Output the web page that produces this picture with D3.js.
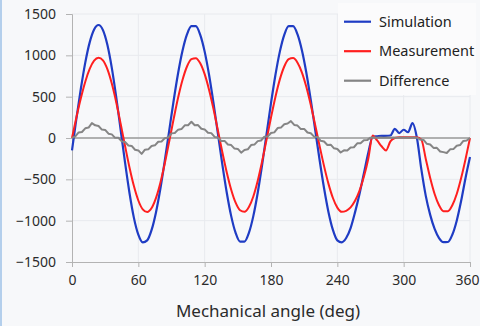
<!DOCTYPE html>
<html lang="en">
<head>
<meta charset="UTF-8">
<title>Simulation vs measurement</title>
<script src="https://d3js.org/d3.v7.min.js"></script>
<style>
  body { margin: 0; background: #f7f8fa; }
  svg { display: block; font-family: "Noto Sans", "Open Sans", sans-serif; }
</style>
</head>
<body>
<div id="chart"></div>
<script>
// angles (deg) for simulation / measurement, 4 deg apart
const angles4 = [
  0, 4, 8, 12, 16, 20, 24, 28, 32, 36,
  40, 44, 48, 52, 56, 60, 64, 68, 72, 76,
  80, 84, 88, 92, 96, 100, 104, 108, 112, 116,
  120, 124, 128, 132, 136, 140, 144, 148, 152, 156,
  160, 164, 168, 172, 176, 180, 184, 188, 192, 196,
  200, 204, 208, 212, 216, 220, 224, 228, 232, 236,
  240, 244, 248, 252, 256, 260, 264, 268, 272, 276,
  280, 284, 288, 292, 296, 300, 304, 308, 312, 316,
  320, 324, 328, 332, 336, 340, 344, 348, 352, 356,
  360
];
const simulation = [
  -150, 238, 596, 912, 1157, 1313, 1367, 1305, 1127, 848,
  495, 100, -299, -665, -966, -1170, -1263, -1238, -1112, -897,
  -608, -269, 96, 457, 786, 1058, 1253, 1353, 1353, 1248,
  1045, 762, 421, 50, -321, -662, -945, -1148, -1253, -1253,
  -1148, -945, -662, -321, 50, 421, 762, 1045, 1248, 1353,
  1353, 1253, 1058, 786, 457, 96, -269, -608, -897, -1112,
  -1238, -1262, -1210, -1090, -900, -680, -430, -180, 15, 20,
  25, 25, 30, 110, 60, 100, 70, 180, 0, -380,
  -700, -930, -1100, -1210, -1260, -1258, -1170, -1000, -760, -480,
  -230
];
const measurement = [
  0, 250, 480, 680, 835, 935, 971, 939, 832, 658,
  433, 173, -97, -357, -582, -756, -863, -895, -847, -724,
  -538, -302, -37, 234, 489, 704, 865, 954, 966, 904,
  772, 582, 350, 90, -172, -417, -626, -783, -874, -893,
  -835, -707, -517, -281, -19, 248, 497, 709, 865, 953,
  967, 911, 791, 616, 398, 155, -98, -340, -555, -726,
  -842, -893, -881, -840, -760, -640, -470, -250, 30, -30,
  -100, -150, -40, 0, 10, 10, 10, 10, 10, -20,
  -253, -484, -677, -814, -886, -886, -814, -677, -484, -253,
  0
];

// difference, 3 deg apart
const angles3 = [
  0, 3, 6, 9, 12, 15, 18, 21, 24, 27,
  30, 33, 36, 39, 42, 45, 48, 51, 54, 57,
  60, 63, 66, 69, 72, 75, 78, 81, 84, 87,
  90, 93, 96, 99, 102, 105, 108, 111, 114, 117,
  120, 123, 126, 129, 132, 135, 138, 141, 144, 147,
  150, 153, 156, 159, 162, 165, 168, 171, 174, 177,
  180, 183, 186, 189, 192, 195, 198, 201, 204, 207,
  210, 213, 216, 219, 222, 225, 228, 231, 234, 237,
  240, 243, 246, 249, 252, 255, 258, 261, 264, 267,
  270, 273, 276, 279, 282, 285, 288, 291, 294, 297,
  300, 303, 306, 309, 312, 315, 318, 321, 324, 327,
  330, 333, 336, 339, 342, 345, 348, 351, 354, 357,
  360
];
const difference = [
  0, 20, 67, 73, 117, 126, 180, 153, 145, 102,
  98, 52, 44, 2, 3, -41, -49, -91, -96, -142,
  -150, -192, -141, -137, -96, -89, -45, -42, -2, 5,
  56, 61, 101, 108, 153, 155, 196, 154, 156, 112,
  104, 63, 59, 13, 5, -37, -35, -79, -86, -128,
  -132, -178, -145, -137, -85, -80, -38, -30, 15, 19,
  60, 68, 120, 126, 167, 175, 204, 158, 150, 108,
  110, 66, 58, 16, 12, -34, -42, -84, -81, -125,
  -133, -175, -149, -151, -114, -112, -65, -64, -28, -25,
  4, 5, 3, 6, 4, 5, 3, 6, 4, 5,
  3, 6, 4, 5, 4, -19, -23, -70, -78, -120,
  -119, -163, -171, -181, -137, -134, -93, -86, -35, -31,
  0
];

const xTicks = [0, 60, 120, 180, 240, 300, 360];
const yTicks = [-1500, -1000, -500, 0, 500, 1000, 1500];
const seriesNames = ["Simulation", "Measurement", "Difference"];
const seriesColors = ["#1f3cc4", "#ff1f1f", "#858585"];

const width = 480, height = 326;
const x = d3.scaleLinear().domain([0, 360]).range([72, 470]);
const y = d3.scaleLinear().domain([-1500, 1500]).range([262, 14]);

const svg = d3.select("#chart").append("svg")
  .attr("width", width)
  .attr("height", height);

svg.append("rect").attr("width", width).attr("height", height).attr("fill", "#f7f8fa");
// thin blue window edge on the left
svg.append("rect").attr("x", 0).attr("y", 0).attr("width", 2).attr("height", height).attr("fill", "#b4cfec");

// faint grid
svg.append("g").selectAll("line").data(xTicks.slice(1)).join("line")
  .attr("x1", d => x(d)).attr("x2", d => x(d))
  .attr("y1", y(1500)).attr("y2", y(-1500))
  .attr("stroke", "#e8eaee");
svg.append("g").selectAll("line").data(yTicks.slice(1)).join("line")
  .attr("x1", x(0)).attr("x2", x(360))
  .attr("y1", d => y(d)).attr("y2", d => y(d))
  .attr("stroke", "#e8eaee");

// legend background
svg.append("rect").attr("x", 338).attr("y", 3).attr("width", 138).attr("height", 92)
  .attr("fill", "#fbfbfc");

// axes
const yAxis = svg.append("g")
  .attr("transform", `translate(${x(0)},0)`)
  .call(d3.axisLeft(y).tickValues(yTicks).tickSize(6).tickPadding(10).tickFormat(d3.format("d")));
const xAxis = svg.append("g")
  .attr("transform", `translate(0,${y(-1500)})`)
  .call(d3.axisBottom(x).tickValues(xTicks).tickSize(5).tickPadding(8));

[yAxis, xAxis].forEach(ax => {
  ax.select(".domain").attr("stroke", "#b3b3b3");
  ax.selectAll(".tick line").attr("stroke", "#b3b3b3");
  ax.selectAll(".tick text")
    .attr("fill", "#2b2b2b")
    .style("font-size", "14px")
    .style("font-family", "'Noto Sans', sans-serif");
});
// last x label sits against the right edge, like the original
xAxis.selectAll(".tick text").filter(d => d === 360).attr("dx", "-3");

// zero line
svg.append("line")
  .attr("x1", x(0)).attr("x2", x(360))
  .attr("y1", y(0)).attr("y2", y(0))
  .attr("stroke", "#9a9a9a").attr("stroke-width", 1.5);

const smooth = d3.line().x(d => x(d[0])).y(d => y(d[1])).curve(d3.curveMonotoneX);
const jagged = d3.line().x(d => x(d[0])).y(d => y(d[1]));

svg.append("path")
  .datum(angles4.map((a, i) => [a, simulation[i]]))
  .attr("d", smooth).attr("fill", "none")
  .attr("stroke", seriesColors[0]).attr("stroke-width", 2.2);

svg.append("path")
  .datum(angles4.map((a, i) => [a, measurement[i]]))
  .attr("d", smooth).attr("fill", "none")
  .attr("stroke", seriesColors[1]).attr("stroke-width", 2);

svg.append("path")
  .datum(angles3.map((a, i) => [a, difference[i]]))
  .attr("d", jagged).attr("fill", "none")
  .attr("stroke", seriesColors[2]).attr("stroke-width", 2)
  .attr("stroke-linejoin", "round");

// legend
const legend = svg.append("g").selectAll("g").data(seriesNames).join("g")
  .attr("transform", (d, i) => `translate(344,${21.7 + i * 29.5})`);
legend.append("line")
  .attr("x1", 0).attr("x2", 27)
  .attr("stroke", (d, i) => seriesColors[i]).attr("stroke-width", 2.2);
legend.append("text")
  .attr("x", 35).attr("y", 5)
  .attr("fill", "#222")
  .style("font-size", "14.5px")
  .text(d => d);

// axis title
svg.append("text")
  .attr("x", 268).attr("y", 317)
  .attr("text-anchor", "middle")
  .attr("fill", "#2b2b2b")
  .style("font-size", "17px")
  .text("Mechanical angle (deg)");
</script>
</body>
</html>
